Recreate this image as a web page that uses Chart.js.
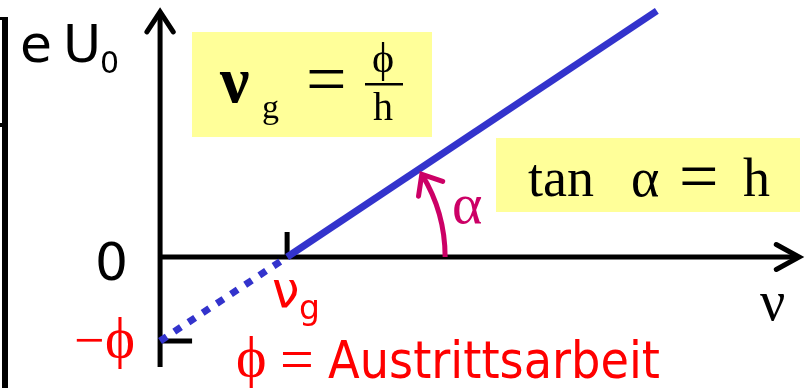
<!DOCTYPE html>
<html>
<head>
<meta charset="utf-8">
<script src="https://cdn.jsdelivr.net/npm/chart.js@4.4.1/dist/chart.umd.min.js"></script>
<style>
  html, body { margin: 0; background: #fff; }
</style>
</head>
<body>
<canvas id="myChart" width="808" height="388"></canvas>
<script>
// Gerade e·U0 = h·ν − ϕ  (ν in Einheiten von ν_g, e·U0 in Einheiten von ϕ)
const nuGestrichelt = [0, 1];
const eU0Gestrichelt = [-1, 0];
const nuDurchgezogen = [1, 3.91];
const eU0Durchgezogen = [0, 2.93];

// Achsen (Datenwerte)
const achseX = [0, 5.03];
const achseY = [-1.31, 2.92];
const xBereich = [-1.26, 5.1];
const yBereich = [-1.56, 3.06];

// Markierungen
const yTickWerte = [0, -1];
const yTickTexte = ["0", "ϕ"];
const xTickWerte = [1];

const BLAU = "#3333cc";
const ROT = "#ff0000";
const MAGENTA = "#cc0066";
const GELB = "#ffff99";
const SANS = '"DejaVu Sans", Verdana, sans-serif';
const SERIF = '"Liberation Serif", "Times New Roman", serif';

const punkte = (xs, ys) => xs.map((v, i) => ({ x: v, y: ys[i] }));

const chevron = (ctx, tx, ty, dx, dy, len, winkel) => {
  const a = Math.atan2(dy, dx);
  ctx.beginPath();
  ctx.moveTo(tx - len * Math.cos(a - winkel), ty - len * Math.sin(a - winkel));
  ctx.lineTo(tx, ty);
  ctx.lineTo(tx - len * Math.cos(a + winkel), ty - len * Math.sin(a + winkel));
  ctx.stroke();
};

const text = (ctx, t, x, y, font, farbe, align, maxW) => {
  ctx.font = font;
  ctx.fillStyle = farbe;
  ctx.textAlign = align || "left";
  ctx.textBaseline = "alphabetic";
  if (maxW) ctx.fillText(t, x, y, maxW);
  else ctx.fillText(t, x, y);
};

const skizze = {
  id: "skizze",
  beforeDatasetsDraw(chart) {
    const { ctx } = chart;
    const sx = chart.scales.x;
    const sy = chart.scales.y;
    ctx.save();

    // Rest eines Rahmens am linken Rand
    ctx.fillStyle = "#000";
    ctx.fillRect(2, 17, 6, 371);
    ctx.fillRect(0, 17, 8, 3);
    ctx.fillRect(0, 123, 2, 4);

    // gelbe Kaesten
    ctx.fillStyle = GELB;
    ctx.fillRect(192, 32, 240, 105);
    ctx.fillRect(496, 138, 304, 74);

    // Achsen
    const x0 = sx.getPixelForValue(0);
    const y0 = sy.getPixelForValue(0);
    ctx.strokeStyle = "#000";
    ctx.lineWidth = 5;
    ctx.lineCap = "butt";
    ctx.beginPath();
    ctx.moveTo(x0, sy.getPixelForValue(achseY[0]));
    ctx.lineTo(x0, sy.getPixelForValue(achseY[1]) + 2);
    ctx.moveTo(sx.getPixelForValue(achseX[0]), y0);
    ctx.lineTo(sx.getPixelForValue(achseX[1]) - 2, y0);
    ctx.stroke();
    ctx.lineCap = "round";
    ctx.lineJoin = "miter";
    chevron(ctx, x0, sy.getPixelForValue(achseY[1]), 0, -1, 24, 0.58);
    chevron(ctx, sx.getPixelForValue(achseX[1]), y0, 1, 0, 26, 0.5);

    // Teilstriche
    ctx.lineCap = "butt";
    ctx.beginPath();
    xTickWerte.forEach((v) => {
      const px = sx.getPixelForValue(v);
      ctx.moveTo(px, y0);
      ctx.lineTo(px, y0 - 25);
    });
    yTickWerte.filter((v) => v !== 0).forEach((v) => {
      const py = sy.getPixelForValue(v);
      ctx.moveTo(x0, py);
      ctx.lineTo(x0 + 32, py);
    });
    ctx.stroke();
    ctx.restore();
  },
  afterDatasetsDraw(chart) {
    const { ctx } = chart;
    const sx = chart.scales.x;
    const sy = chart.scales.y;
    ctx.save();

    // Winkelbogen alpha
    const cx = sx.getPixelForValue(xTickWerte[0]);
    const cy = sy.getPixelForValue(0);
    const r = 158;
    const ende = 0.55;
    ctx.strokeStyle = MAGENTA;
    ctx.lineWidth = 5;
    ctx.lineCap = "butt";
    ctx.beginPath();
    ctx.arc(cx, cy, r, 0, -ende, true);
    ctx.stroke();
    ctx.lineCap = "round";
    chevron(ctx, cx + r * Math.cos(ende), cy - r * Math.sin(ende),
      -Math.sin(ende), -Math.cos(ende), 22, 0.7);
    text(ctx, "α", 452, 223, "58px " + SERIF, MAGENTA);

    // Achsenbeschriftungen
    text(ctx, "e", 20, 62, "52px " + SANS, "#000");
    text(ctx, "U", 63, 62, "52px " + SANS, "#000");
    text(ctx, "0", 100, 73, "30px " + SANS, "#000");
    text(ctx, yTickTexte[0], 128, sy.getPixelForValue(yTickWerte[0]) + 23, "52px " + SANS, "#000", "right");
    const yPhi = sy.getPixelForValue(yTickWerte[1]);
    text(ctx, "−", 74, yPhi + 17, "54px " + SERIF, ROT);
    text(ctx, yTickTexte[1], 105, yPhi + 16, "57px " + SERIF, ROT);
    text(ctx, "ν", 272, 307, "49px " + SANS, ROT);
    text(ctx, "g", 299, 319, "33px " + SANS, ROT);
    text(ctx, "ν", 760, 320, "56px " + SERIF, "#000");

    // ϕ = Austrittsarbeit
    text(ctx, "ϕ", 236, 376, "58px " + SERIF, ROT);
    text(ctx, "=", 280, 379, "60px " + SERIF, ROT);
    text(ctx, "Austrittsarbeit", 328, 378, "52px " + SANS, ROT, "left", 332);

    // Formel nu_g = phi / h
    text(ctx, "ν", 220, 102, "bold 66px " + SERIF, "#000");
    text(ctx, "g", 262, 118, "34px " + SERIF, "#000");
    text(ctx, "=", 306, 103, "72px " + SERIF, "#000");
    text(ctx, "ϕ", 383, 72, "42px " + SERIF, "#000", "center");
    ctx.fillStyle = "#000";
    ctx.fillRect(365, 83, 38, 2.5);
    text(ctx, "h", 383, 120, "40px " + SERIF, "#000", "center");

    // tan alpha = h
    text(ctx, "tan", 528, 196, "54px " + SERIF, "#000");
    text(ctx, "α", 631, 196, "54px " + SERIF, "#000");
    text(ctx, "=", 679, 200, "70px " + SERIF, "#000");
    text(ctx, "h", 743, 196, "54px " + SERIF, "#000");
    ctx.restore();
  },
};

const chart = document.querySelector("#myChart");
const myChart = new Chart(chart, {
  type: "scatter",
  data: {
    datasets: [
      {
        label: "extrapoliert",
        data: punkte(nuGestrichelt, eU0Gestrichelt),
        showLine: true,
        borderColor: BLAU,
        borderWidth: 7,
        borderDash: [8, 9],
        borderCapStyle: "butt",
        pointRadius: 0,
      },
      {
        label: "gemessen",
        data: punkte(nuDurchgezogen, eU0Durchgezogen),
        showLine: true,
        borderColor: BLAU,
        borderWidth: 7,
        borderCapStyle: "butt",
        pointRadius: 0,
      },
    ],
  },
  options: {
    responsive: false,
    animation: false,
    layout: { padding: 0 },
    plugins: { legend: { display: false }, tooltip: { enabled: false } },
    scales: {
      x: { type: "linear", min: xBereich[0], max: xBereich[1], display: false },
      y: { type: "linear", min: yBereich[0], max: yBereich[1], display: false },
    },
  },
  plugins: [skizze],
});
</script>
</body>
</html>
